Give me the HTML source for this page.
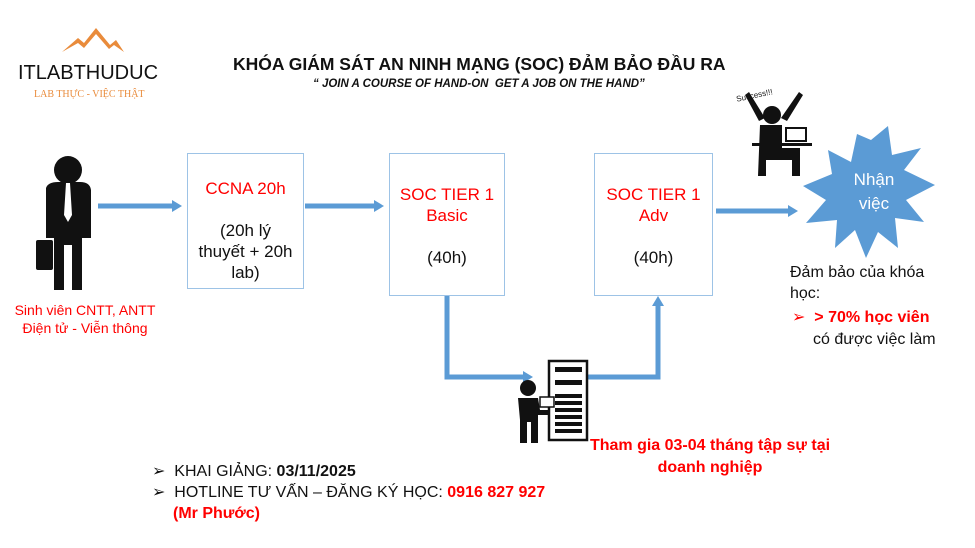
<!DOCTYPE html>
<html><head><meta charset="utf-8"><style>
body{margin:0;width:975px;height:548px;background:#fff;position:relative;overflow:hidden;font-family:"Liberation Sans",sans-serif}
.a{position:absolute}
.box{position:absolute;border:1.5px solid #9dc3e6;background:#fff;color:#ff0000;text-align:center;font-size:17px;line-height:21px;box-sizing:border-box}
.blk{color:#111}
.red{color:#ff0000}
</style></head><body>
<svg class="a" style="left:0;top:0" width="975" height="548">
<defs><marker id="ah" markerWidth="10" markerHeight="12" refX="2" refY="6" orient="auto" markerUnits="userSpaceOnUse"><path d="M0,0 L10,6 L0,12 z" fill="#5b9bd5"/></marker></defs>
<path d="M62,52 L78,38 L84,43 L96,28 L110,45 L116,40 L124,52 L114,45 L109,49 L96,34 L84,48 L78,43 Z" fill="#e98b3b"/>
<g stroke="#5b9bd5" stroke-width="5" fill="none">
<line x1="98" y1="206" x2="174" y2="206" marker-end="url(#ah)"/>
<line x1="305" y1="206" x2="376" y2="206" marker-end="url(#ah)"/>
<line x1="716" y1="211" x2="790" y2="211" marker-end="url(#ah)"/>
<polyline points="447,296 447,377 525,377" marker-end="url(#ah)"/>
<polyline points="584,377 658,377 658,304" marker-end="url(#ah)"/>
</g>
<g fill="#111">
<circle cx="68" cy="170" r="14"/>
<path d="M46,188 Q48,182 58,182 L80,182 Q90,182 91,190 L91,238 L82,238 L82,290 L72,290 L72,245 L64,245 L64,290 L54,290 L54,238 L46,238 Z"/>
<rect x="36" y="240" width="17" height="30" rx="2"/>
</g>
<path d="M66,183 L70,183 L72,215 L68,222 L64,215 Z" fill="#fff"/>
<g fill="#111">
<circle cx="772" cy="115" r="9"/>
<path d="M745,95 L749,92 L765,118 L759,121 Z M799,92 L803,95 L787,121 L781,118 Z"/>
<path d="M760,125 L782,125 L782,148 L800,148 L800,176 L792,176 L792,160 L766,160 L766,176 L758,176 Z"/>
<rect x="752" y="143" width="60" height="3"/>
<rect x="786" y="128" width="20" height="13" fill="none" stroke="#111" stroke-width="2"/>
</g>
<polygon fill="#5b9bd5" points="871,140 888,126 892,155 921,148 904,170 935,185 906,200 924,222 895,218 898,248 878,232 866,258 855,230 835,248 837,220 806,223 826,200 803,186 832,174 828,150 851,162 857,134"/>
<rect x="549" y="361" width="38" height="79" fill="#fff" stroke="#111" stroke-width="2.5"/>
<g fill="#111">
<rect x="555" y="367" width="27" height="5"/><rect x="555" y="380" width="27" height="5"/>
<rect x="555" y="394" width="27" height="4"/><rect x="555" y="401" width="27" height="4"/><rect x="555" y="408" width="27" height="4"/><rect x="555" y="415" width="27" height="4"/><rect x="555" y="422" width="27" height="4"/><rect x="555" y="429" width="27" height="4"/>
<circle cx="528" cy="388" r="8"/>
<path d="M518,398 L538,398 L540,410 L550,410 L550,415 L538,415 L538,443 L531,443 L531,422 L527,422 L527,443 L520,443 L520,420 Z"/>
</g>
<rect x="540" y="397" width="14" height="10" fill="#fff" stroke="#111" stroke-width="1.5"/>
</svg>
<div class="a" style="left:18px;top:62px;font-size:20px;letter-spacing:0px;color:#111">ITLABTHUDUC</div>
<div class="a" style="left:34px;top:89px;font-size:10px;color:#e98b3b;font-family:'Liberation Serif',serif">LAB THỰC - VIỆC THẬT</div>
<div class="a" style="left:233px;top:54px;font-size:17.5px;font-weight:bold;color:#111">KHÓA GIÁM SÁT AN NINH MẠNG (SOC) ĐẢM BẢO ĐẦU RA</div>
<div class="a" style="left:313px;top:78px;font-size:11.5px;font-weight:bold;font-style:italic;color:#111">“ JOIN A COURSE OF HAND-ON&nbsp; GET A JOB ON THE HAND”</div>
<div class="a" style="left:736px;top:91px;font-size:8px;color:#111;transform:rotate(-12deg)">Success!!!</div>
<div class="a" style="left:0px;top:301px;width:170px;text-align:center;font-size:14px;line-height:18px;color:#f00;white-space:nowrap">Sinh viên CNTT, ANTT<br>Điện tử - Viễn thông</div>
<div class="box" style="left:187px;top:153px;width:117px;height:136px;padding-top:24px">CCNA 20h<br><br><span class="blk">(20h lý<br>thuyết + 20h<br>lab)</span></div>
<div class="box" style="left:389px;top:153px;width:116px;height:143px;padding-top:30px">SOC TIER 1<br>Basic<br><br><span class="blk">(40h)</span></div>
<div class="box" style="left:594px;top:153px;width:119px;height:143px;padding-top:30px">SOC TIER 1<br>Adv<br><br><span class="blk">(40h)</span></div>
<div class="a" style="left:836px;top:168px;width:76px;text-align:center;color:#fff;font-size:17px;line-height:24px">Nhận<br>việc</div>
<div class="a" style="left:790px;top:262px;font-size:16px;line-height:21px;color:#111">Đảm bảo của khóa<br>học:</div>
<div class="a" style="left:792px;top:307px;font-size:16px;line-height:22px;color:#111"><span class="red">➢&nbsp; <b>&gt; 70% học viên</b></span><br><span style="padding-left:21px">có được việc làm</span></div>
<div class="a" style="left:585px;top:435px;width:250px;text-align:center;font-size:16px;line-height:22px;font-weight:bold;color:#f00">Tham gia 03-04 tháng tập sự tại<br>doanh nghiệp</div>
<div class="a" style="left:152px;top:461px;font-size:16px;line-height:21px;color:#111">➢&nbsp; KHAI GIẢNG: <b>03/11/2025</b><br>➢&nbsp; HOTLINE TƯ VẤN – ĐĂNG KÝ HỌC: <b class="red">0916 827 927</b><br><b class="red" style="padding-left:21px">(Mr Phước)</b></div>
</body></html>
